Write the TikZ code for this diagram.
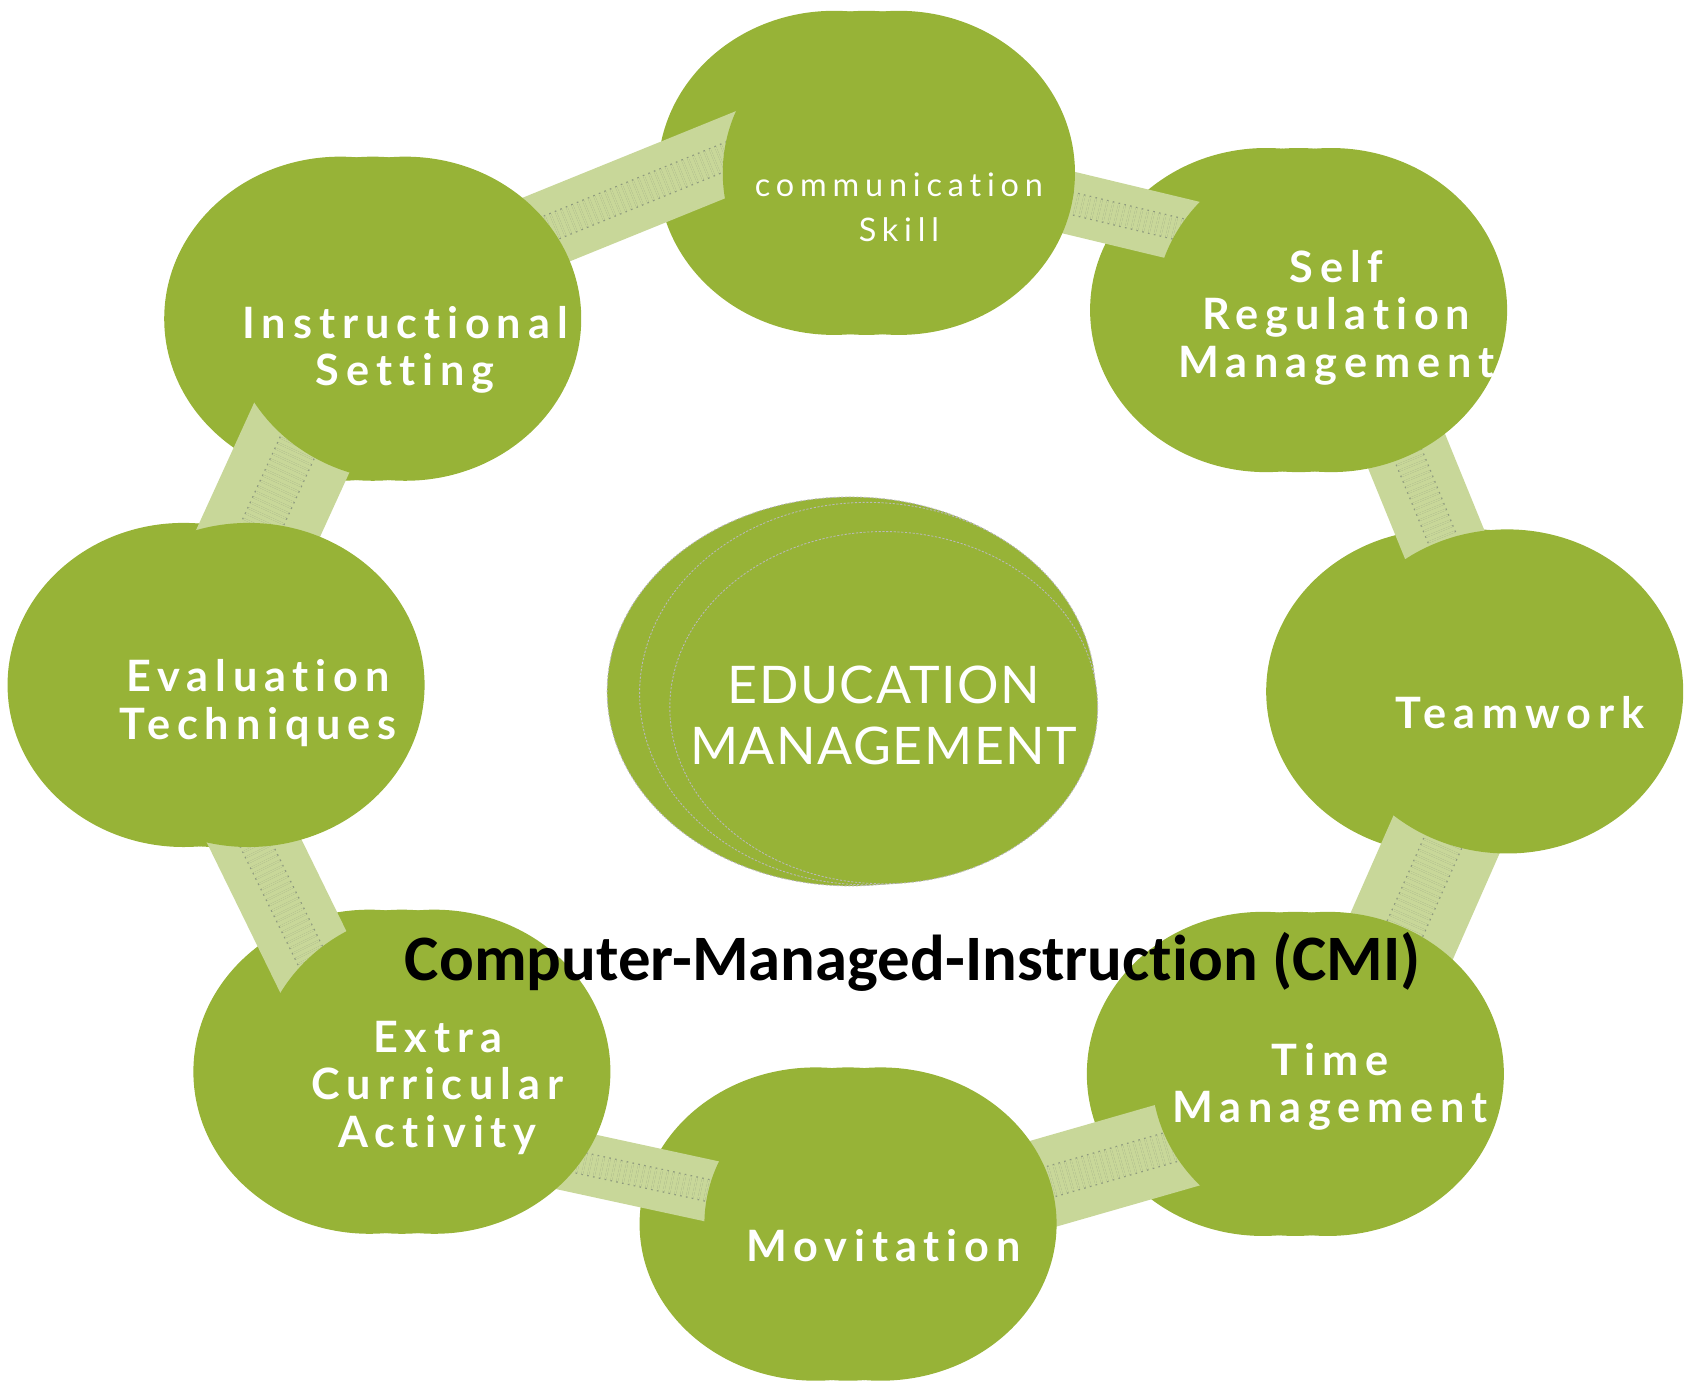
\documentclass[tikz,border=0pt]{standalone}
\usepackage{fontspec}
\setmainfont{Lato}
\newfontfamily\titlefont[Ligatures=CommonOff]{Carlito}
\newfontfamily\leaffont[LetterSpace=16, Ligatures=CommonOff]{Lato}
\newfontfamily\thinfont[LetterSpace=18, Ligatures=CommonOff]{Lato}
\newfontfamily\hubfont[LetterSpace=3, Ligatures=CommonOff]{Lato}
\usetikzlibrary{shapes.geometric}
\definecolor{leaf}{HTML}{97B337}
\definecolor{stem}{HTML}{C8D799}
\definecolor{seam}{HTML}{8E9A7E}
\pgfdeclarelayer{back}
\pgfdeclarelayer{bands}
\pgfsetlayers{back,bands,main}

\tikzset{
  blob/.style={ellipse, fill=leaf, minimum width=326pt, minimum height=300pt, inner sep=0pt, outer sep=0pt},
  hub/.style={ellipse, fill=leaf, draw=gray!55, line width=0.8pt, dash pattern=on 2pt off 1.5pt, inner sep=0pt, outer sep=0pt},
  band/.style={draw=stem, line width=#1, shorten <=-35pt, shorten >=-35pt,
    postaction={draw=seam, line width=1.2pt, double=stem, double distance=#1/3, dash pattern=on 1.5pt off 4pt}},
  leaftext/.style={text=white, align=center, inner sep=0pt, font=\leaffont\bfseries\fontsize{40}{44}\selectfont},
}

\begin{document}
\begin{tikzpicture}[x=1pt, y=-1pt]
\useasboundingbox (0,0) rectangle (1568,1278);

% shifted copies behind the ring
\begin{pgfonlayer}{back}
\foreach \s in {60,30} {
  \begin{scope}[xshift=-\s pt]
    \node[blob] (comm\s)  at (832,160)  {};
    \node[blob] (self\s)  at (1232,287) {};
    \node[blob] (team\s)  at (1395,640) {};
    \node[blob] (time\s)  at (1229,994) {};
    \node[blob, minimum height=290pt] (mov\s) at (815,1133) {};
    \node[blob] (extra\s) at (402,992)  {};
    \node[blob] (eval\s)  at (230,634)  {};
    \node[blob] (instr\s) at (375,295)  {};
  \end{scope}
}
\end{pgfonlayer}

% the ring
\node[blob] (comm)  at (832,160)  {};
\node[blob] (self)  at (1232,287) {};
\node[blob] (team)  at (1395,640) {};
\node[blob] (time)  at (1229,994) {};
\node[blob, minimum height=290pt] (mov) at (815,1133) {};
\node[blob] (extra) at (402,992)  {};
\node[blob] (eval)  at (230,634)  {};
\node[blob] (instr) at (375,295)  {};

\begin{pgfonlayer}{bands}
\draw[band=71pt]  (instr.32)  -- (comm.175);
\draw[band=58pt]  (comm.-10)  -- (self.152);
\draw[band=78pt]  (self.-62)  -- (team.113);
\draw[band=104pt] (team.247)  -- (time.62);
\draw[band=83pt]  (time.205)  -- (mov.14);
\draw[band=57pt]  (extra.-32) -- (mov.169);
\draw[band=80pt]  (eval.-87)  -- (extra.137);
\draw[band=107pt] (instr.230) -- (eval.85);
\end{pgfonlayer}

% centre
\node[hub, minimum width=450pt, minimum height=360pt] (hubA) at (787,640) {};
\node[hub, minimum width=422pt, minimum height=354pt] (hubB) at (803,642) {};
\node[hub, minimum width=396pt, minimum height=326pt] (hub)  at (818,655) {};

\node[leaftext, font=\thinfont\fontsize{30}{41}\selectfont] (commtxt) at (832,192) {communication\\Skill};
\node[leaftext] (selftxt)  at (1237,294) {Self\\Regulation\\Management};
\node[leaftext] (teamtxt)  at (1407,660) {Teamwork};
\node[leaftext] (timetxt)  at (1231,1006) {Time\\Management};
\node[leaftext] (movtxt)   at (818,1153) {Movitation};
\node[leaftext] (extratxt) at (405,1007) {Extra\\Curricular\\Activity};
\node[leaftext] (evaltxt)  at (239,651) {Evaluation\\Techniques};
\node[leaftext] (instrtxt) at (375,324) {Instructional\\Setting};
\node[leaftext, font=\hubfont\fontsize{48}{57}\selectfont] (hubtxt) at (818,662) {EDUCATION\\MANAGEMENT};

\node[inner sep=0pt, font=\titlefont\bfseries\fontsize{60}{70}\selectfont] (cmi) at (845,890) {Computer-Managed-Instruction (CMI)};
\end{tikzpicture}
\end{document}
